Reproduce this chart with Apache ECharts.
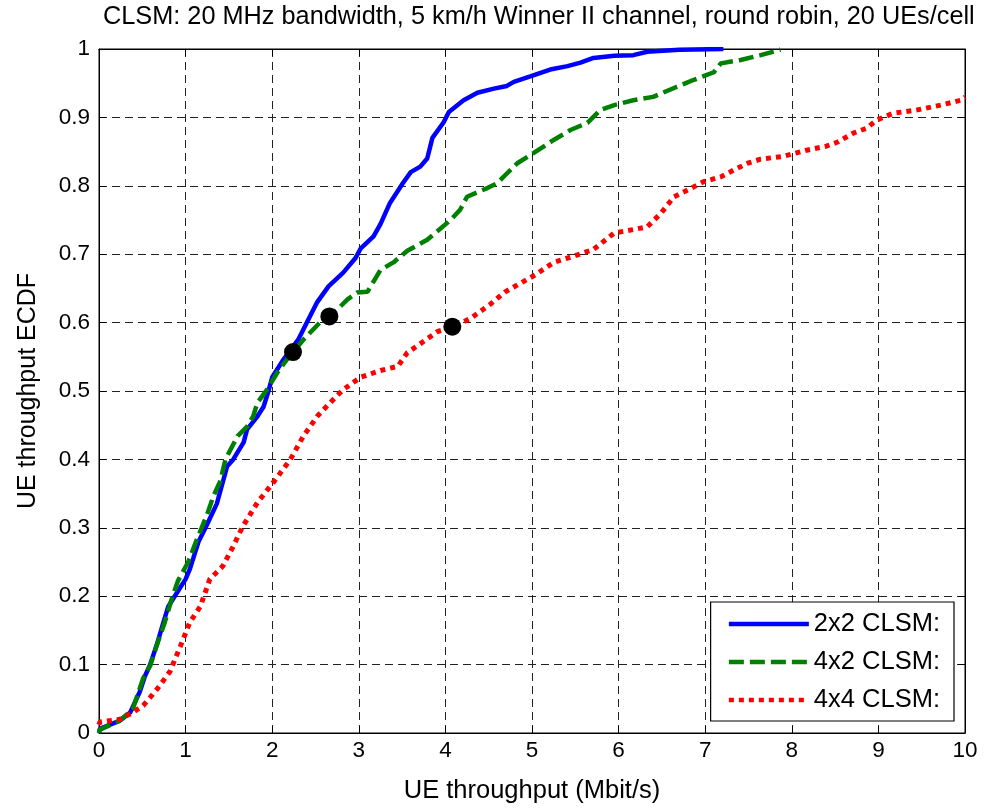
<!DOCTYPE html>
<html>
<head>
<meta charset="utf-8">
<script src="https://cdn.jsdelivr.net/npm/echarts@6/dist/echarts.min.js"></script>
<style>html,body{margin:0;padding:0;background:#fff}#c{width:985px;height:809px}</style>
</head>
<body>
<div id="c"></div>
<script>
const titleText = 'CLSM: 20 MHz bandwidth, 5 km/h Winner II channel, round robin, 20 UEs/cell';
const xName = 'UE throughput (Mbit/s)';
const yName = 'UE throughput ECDF';
const seriesNames = ['2x2 CLSM:', '4x2 CLSM:', '4x4 CLSM:'];
const xTicks = [0,1,2,3,4,5,6,7,8,9,10];
const yTicks = [0,0.1,0.2,0.3,0.4,0.5,0.6,0.7,0.8,0.9,1];

const clsm2x2 = [[0,0],[0.01,0.006],[0.24,0.018],[0.36,0.03],[0.47,0.06],[0.53,0.083],[0.59,0.10],[0.67,0.13],[0.73,0.156],[0.80,0.185],[0.90,0.205],[1.0,0.225],[1.05,0.24],[1.15,0.28],[1.23,0.30],[1.36,0.335],[1.48,0.39],[1.55,0.40],[1.67,0.425],[1.71,0.444],[1.83,0.463],[1.90,0.477],[1.95,0.497],[2.0,0.52],[2.13,0.546],[2.30,0.575],[2.40,0.60],[2.52,0.63],[2.65,0.653],[2.82,0.673],[2.96,0.694],[3.02,0.708],[3.17,0.726],[3.25,0.744],[3.36,0.775],[3.51,0.804],[3.60,0.82],[3.71,0.828],[3.79,0.84],[3.85,0.87],[3.98,0.893],[4.04,0.908],[4.21,0.925],[4.37,0.936],[4.56,0.942],[4.71,0.946],[4.79,0.952],[4.98,0.96],[5.21,0.97],[5.41,0.975],[5.56,0.98],[5.71,0.987],[5.95,0.99],[6.17,0.991],[6.33,0.996],[6.7,0.999],[7.21,1.0]];

const clsm4x2 = [[0,0],[0.01,0.005],[0.24,0.018],[0.39,0.035],[0.51,0.08],[0.59,0.098],[0.68,0.133],[0.76,0.162],[0.84,0.196],[0.91,0.222],[1.03,0.25],[1.13,0.283],[1.25,0.32],[1.32,0.346],[1.40,0.368],[1.46,0.40],[1.60,0.434],[1.71,0.448],[1.78,0.463],[1.83,0.483],[1.94,0.502],[2.06,0.527],[2.17,0.546],[2.36,0.575],[2.55,0.60],[2.75,0.619],[2.87,0.634],[2.98,0.644],[3.1,0.645],[3.25,0.677],[3.40,0.688],[3.56,0.705],[3.79,0.721],[4.06,0.75],[4.17,0.765],[4.25,0.784],[4.49,0.797],[4.6,0.804],[4.71,0.818],[4.83,0.833],[5.02,0.848],[5.25,0.867],[5.45,0.882],[5.64,0.892],[5.79,0.911],[5.95,0.918],[6.17,0.925],[6.40,0.930],[6.64,0.943],[6.87,0.955],[7.10,0.966],[7.18,0.979],[7.41,0.984],[7.64,0.991],[7.87,0.999]];

const clsm4x4 = [[0,0.012],[0.01,0.016],[0.24,0.02],[0.39,0.03],[0.51,0.04],[0.67,0.064],[0.82,0.09],[0.94,0.127],[1.05,0.162],[1.17,0.185],[1.28,0.225],[1.43,0.244],[1.55,0.273],[1.66,0.302],[1.83,0.337],[2.01,0.366],[2.21,0.40],[2.36,0.434],[2.52,0.463],[2.67,0.483],[2.82,0.502],[3.02,0.52],[3.25,0.53],[3.45,0.536],[3.56,0.556],[3.72,0.57],[3.91,0.587],[4.10,0.594],[4.30,0.607],[4.51,0.626],[4.69,0.645],[4.90,0.66],[5.04,0.67],[5.25,0.688],[5.48,0.697],[5.71,0.707],[5.95,0.731],[6.17,0.736],[6.33,0.74],[6.49,0.76],[6.64,0.784],[6.80,0.794],[6.98,0.806],[7.18,0.813],[7.33,0.823],[7.49,0.833],[7.64,0.839],[7.90,0.843],[8.17,0.852],[8.40,0.858],[8.53,0.864],[8.71,0.877],[8.86,0.884],[8.98,0.896],[9.17,0.906],[9.45,0.911],[9.72,0.918],[9.95,0.925],[10.0,0.93]];

const markerPoints = [[2.24,0.557],[2.66,0.609],[4.08,0.594]];

const FONT = "'Liberation Sans', Arial, Helvetica, sans-serif";
const chart = echarts.init(document.getElementById('c'), null, {renderer: 'canvas'});
const gridDash = {color: '#222', width: 1, type: [8, 5]};
const tickInside = {show: true, inside: true, length: 7, lineStyle: {color: '#000', width: 1}};

chart.setOption({
  animation: false,
  backgroundColor: '#fff',
  title: {
    text: titleText, left: 98, top: 0,
    textStyle: {fontFamily: FONT, fontSize: 25.3, fontWeight: 'normal', color: '#000'}
  },
  grid: {left: 99, right: 20, top: 49, bottom: 75, show: true, borderColor: '#000', borderWidth: 1, containLabel: false},
  legend: {
    orient: 'vertical', right: 31, top: 602,
    data: seriesNames,
    backgroundColor: '#fff', borderColor: '#000', borderWidth: 1.2, borderRadius: 0,
    padding: [9, 14, 8, 16],
    itemWidth: 80, itemHeight: 14, itemGap: 12,
    itemStyle: {opacity: 0},
    lineStyle: {width: 4.5},
    textStyle: {fontFamily: FONT, fontSize: 25.5, color: '#000', lineHeight: 26, padding: [0,0,0,0]}
  },
  xAxis: [{
    type: 'value', min: 0, max: 10, interval: 1,
    name: xName, nameLocation: 'middle', nameGap: 45,
    nameTextStyle: {fontFamily: FONT, fontSize: 25.5, color: '#000'},
    axisLine: {show: true, onZero: false, lineStyle: {color: '#000', width: 1}},
    axisTick: tickInside,
    axisLabel: {fontFamily: FONT, fontSize: 22.5, color: '#000', margin: 6, formatter: v => xTicks.includes(v) ? String(v) : ''},
    splitLine: {show: true, lineStyle: gridDash}
  }, {
    type: 'value', min: 0, max: 10, interval: 1, position: 'top',
    axisLine: {show: true, onZero: false, lineStyle: {color: '#000'}},
    axisTick: tickInside, axisLabel: {show: false}, splitLine: {show: false}
  }],
  yAxis: [{
    type: 'value', min: 0, max: 1, interval: 0.1,
    name: yName, nameLocation: 'middle', nameGap: 58, nameRotate: 90,
    nameTextStyle: {fontFamily: FONT, fontSize: 25, color: '#000'},
    axisLine: {show: true, onZero: false, lineStyle: {color: '#000', width: 1}},
    axisTick: tickInside,
    axisLabel: {fontFamily: FONT, fontSize: 22.5, color: '#000', margin: 9, formatter: v => { const r = Math.round(v*10)/10; return yTicks.includes(r) ? String(r) : ''; }},
    splitLine: {show: true, lineStyle: gridDash}
  }, {
    type: 'value', min: 0, max: 1, interval: 0.1, position: 'right',
    axisLine: {show: true, onZero: false, lineStyle: {color: '#000'}},
    axisTick: tickInside, axisLabel: {show: false}, splitLine: {show: false}
  }],
  series: [
    {name: seriesNames[0], type: 'line', data: clsm2x2, showSymbol: false, symbol: 'none', clip: true,
     lineStyle: {color: '#0000ff', width: 4.5, type: 'solid'}, itemStyle: {color: '#0000ff'}, z: 2},
    {name: seriesNames[1], type: 'line', data: clsm4x2, showSymbol: false, symbol: 'none', clip: true,
     lineStyle: {color: '#008000', width: 4.5, type: [15, 6]}, itemStyle: {color: '#008000'}, z: 3},
    {name: seriesNames[2], type: 'line', data: clsm4x4, showSymbol: false, symbol: 'none', clip: true,
     lineStyle: {color: '#ff0000', width: 5, type: [5, 5]}, itemStyle: {color: '#ff0000'}, z: 4},
    {name: 'markers', type: 'scatter', data: markerPoints, symbol: 'circle', symbolSize: 18,
     itemStyle: {color: '#000', opacity: 1}, z: 5, silent: true}
  ]
});
</script>
</body>
</html>
